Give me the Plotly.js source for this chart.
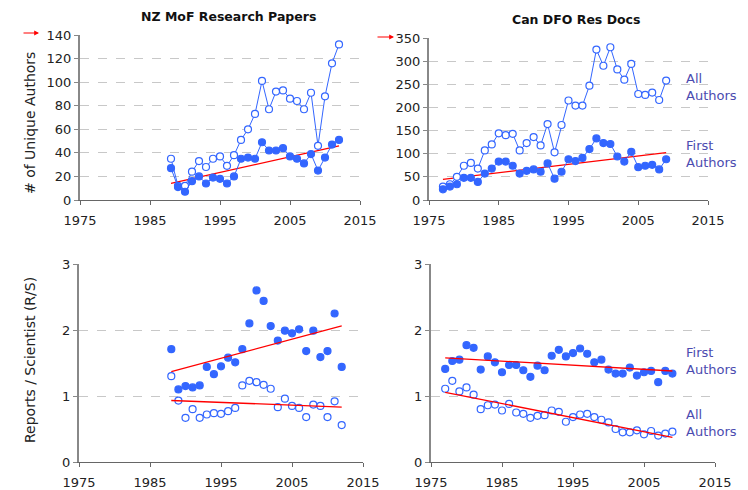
<!DOCTYPE html>
<html>
<head>
<meta charset="utf-8">
<script src="https://cdn.plot.ly/plotly-3.0.1.min.js"></script>
<style>html,body{margin:0;padding:0;background:#fff;}#chart{width:748px;height:490px;}</style>
</head>
<body>
<div id="chart"></div>
<script>
// ---- Data ----
const nzYears = [1988,1989,1990,1991,1992,1993,1994,1995,1996,1997,1998,1999,2000,2001,2002,2003,2004,2005,2006,2007,2008,2009,2010,2011,2012];
const nzAllAuthors = [35,12,12,24,33,28,35,37,29,38,51,60,73,101,77,92,93,86,84,77,91,46,88,116,132];
const nzFirstAuthors = [27,11,7,16,20,14,19,18,14,20,35,36,35,49,42,42,44,37,35,31,39,25,36,47,51];
const nzRsFirst = [1.71,1.10,1.15,1.13,1.16,1.44,1.33,1.45,1.58,1.51,1.71,2.10,2.60,2.44,2.06,1.84,1.99,1.95,2.01,1.68,1.99,1.59,1.68,2.25,1.44];
const nzRsAll = [1.30,0.93,0.67,0.80,0.67,0.72,0.74,0.73,0.77,0.82,1.16,1.23,1.21,1.17,1.11,0.83,0.96,0.85,0.82,0.68,0.87,0.85,0.68,0.92,0.56];

const dfoYears = [1977,1978,1979,1980,1981,1982,1983,1984,1985,1986,1987,1988,1989,1990,1991,1992,1993,1994,1995,1996,1997,1998,1999,2000,2001,2002,2003,2004,2005,2006,2007,2008,2009];
const dfoAllAuthors = [29,34,50,74,80,68,107,120,144,140,143,107,123,136,118,164,103,162,215,204,204,247,325,290,330,282,260,294,229,227,232,216,258];
const dfoFirstAuthors = [23,29,34,48,48,39,57,68,83,83,74,57,63,66,61,79,46,61,88,84,91,110,133,123,121,94,83,104,71,74,76,66,88];
const dfoRsFirst = [1.41,1.53,1.55,1.77,1.73,1.40,1.60,1.51,1.36,1.47,1.47,1.39,1.29,1.46,1.39,1.61,1.70,1.60,1.65,1.72,1.64,1.51,1.55,1.40,1.34,1.34,1.43,1.31,1.36,1.38,1.21,1.38,1.34];
const dfoRsAll = [1.11,1.23,1.07,1.13,1.02,0.80,0.86,0.87,0.78,0.88,0.75,0.73,0.67,0.70,0.71,0.78,0.76,0.61,0.68,0.72,0.73,0.68,0.64,0.60,0.50,0.45,0.45,0.48,0.42,0.47,0.40,0.43,0.46];

const xTickVals = [1975,1985,1995,2005,2015];
const panelTitles = ["NZ MoF Research Papers", "Can DFO Res Docs"];
const yTitles = ["# of Unique Authors", "Reports / Scientist (R/S)"];

// ---- Helpers ----
function linFit(xs, ys) {
  const n = xs.length;
  let sx=0, sy=0, sxx=0, sxy=0;
  for (let i=0;i<n;i++){ sx+=xs[i]; sy+=ys[i]; sxx+=xs[i]*xs[i]; sxy+=xs[i]*ys[i]; }
  const b = (n*sxy - sx*sy)/(n*sxx - sx*sx);
  const a = (sy - b*sx)/n;
  const x0 = xs[0], x1 = xs[n-1];
  return {x:[x0,x1], y:[a+b*x0, a+b*x1]};
}

const BLUE = '#3366FF';
const RED = '#FF0000';
const W = 748, H = 490;
const px = v => v / W;
const py = v => 1 - v / H;

function lineTrace(x, y, open, xa, ya) {
  return {x, y, xaxis:xa, yaxis:ya, type:'scatter', mode:'lines+markers',
    line:{color:BLUE, width:1},
    marker:{size:7, symbol:'circle', color: open ? '#FFFFFF' : BLUE, line:{color:BLUE, width:1.2}},
    hoverinfo:'skip'};
}
function dotTrace(x, y, open, xa, ya) {
  return {x, y, xaxis:xa, yaxis:ya, type:'scatter', mode:'markers',
    marker:{size:7, symbol:'circle', color: open ? '#FFFFFF' : BLUE, line:{color:BLUE, width:1.2}},
    hoverinfo:'skip'};
}
function trendTrace(x, y, xa, ya) {
  const f = linFit(x, y);
  return {x:f.x, y:f.y, xaxis:xa, yaxis:ya, type:'scatter', mode:'lines',
    line:{color:RED, width:1.3}, hoverinfo:'skip'};
}

const traces = [
  // top-left
  trendTrace(nzYears, nzFirstAuthors, 'x', 'y'),
  lineTrace(nzYears, nzAllAuthors, true, 'x', 'y'),
  lineTrace(nzYears, nzFirstAuthors, false, 'x', 'y'),
  // top-right
  trendTrace(dfoYears, dfoFirstAuthors, 'x2', 'y2'),
  lineTrace(dfoYears, dfoAllAuthors, true, 'x2', 'y2'),
  lineTrace(dfoYears, dfoFirstAuthors, false, 'x2', 'y2'),
  // bottom-left
  dotTrace(nzYears, nzRsFirst, false, 'x3', 'y3'),
  dotTrace(nzYears, nzRsAll, true, 'x3', 'y3'),
  trendTrace(nzYears, nzRsFirst, 'x3', 'y3'),
  trendTrace(nzYears, nzRsAll, 'x3', 'y3'),
  // bottom-right
  dotTrace(dfoYears, dfoRsFirst, false, 'x4', 'y4'),
  dotTrace(dfoYears, dfoRsAll, true, 'x4', 'y4'),
  trendTrace(dfoYears, dfoRsFirst, 'x4', 'y4'),
  trendTrace(dfoYears, dfoRsAll, 'x4', 'y4')
];

const FONT = '"DejaVu Sans", Verdana, sans-serif';
function xAxis(domain, anchor) {
  return {domain, anchor, range:[1975,2015], tickmode:'array', tickvals:xTickVals,
    ticktext:xTickVals.map(String), showgrid:false, zeroline:false,
    showline:true, linecolor:'#666', linewidth:1, ticks:'outside', ticklen:4, tickcolor:'#666',
    ticklabelstandoff:4,
    tickfont:{family:FONT, size:13, color:'#222'}, fixedrange:true};
}
function yAxis(domain, anchor, range, dtick) {
  return {domain, anchor, range, dtick, tick0:0, showgrid:true, gridcolor:'#c8c8c8', griddash:'dash', gridwidth:1,
    zeroline:false, showline:true, linecolor:'#888', linewidth:2, ticks:'outside', ticklen:4, tickcolor:'#888',
    tickfont:{family:FONT, size:13, color:'#222'}, fixedrange:true};
}

const labelColor = '#4B4BB0';
const annotations = [
  {text:'<b>'+panelTitles[0]+'</b>', xref:'paper', yref:'paper', x:px(228), y:py(17), showarrow:false,
    font:{family:FONT, size:12.5, color:'#111'}, xanchor:'center', yanchor:'middle'},
  {text:'<b>'+panelTitles[1]+'</b>', xref:'paper', yref:'paper', x:px(576), y:py(19), showarrow:false,
    font:{family:FONT, size:12.5, color:'#111'}, xanchor:'center', yanchor:'middle'},
  {text:yTitles[0], xref:'paper', yref:'paper', x:px(30), y:py(123), textangle:-90, showarrow:false,
    font:{family:FONT, size:14, color:'#222'}, xanchor:'center', yanchor:'middle'},
  {text:yTitles[1], xref:'paper', yref:'paper', x:px(30), y:py(360), textangle:-90, showarrow:false,
    font:{family:FONT, size:14, color:'#222'}, xanchor:'center', yanchor:'middle'},
  {text:'All<br>Authors', xref:'paper', yref:'paper', x:px(684), y:py(87), showarrow:false, align:'left',
    font:{family:FONT, size:13, color:labelColor}, xanchor:'left', yanchor:'middle'},
  {text:'First<br>Authors', xref:'paper', yref:'paper', x:px(684), y:py(154), showarrow:false, align:'left',
    font:{family:FONT, size:13, color:labelColor}, xanchor:'left', yanchor:'middle'},
  {text:'First<br>Authors', xref:'paper', yref:'paper', x:px(684), y:py(361), showarrow:false, align:'left',
    font:{family:FONT, size:13, color:labelColor}, xanchor:'left', yanchor:'middle'},
  {text:'All<br>Authors', xref:'paper', yref:'paper', x:px(684), y:py(423), showarrow:false, align:'left',
    font:{family:FONT, size:13, color:labelColor}, xanchor:'left', yanchor:'middle'},
  {text:'', xref:'paper', yref:'paper', x:px(39), y:py(33), showarrow:true, ax:-17, ay:0,
    arrowhead:2, arrowsize:0.8, arrowwidth:1.2, arrowcolor:RED},
  {text:'', xref:'paper', yref:'paper', x:px(394), y:py(37), showarrow:true, ax:-18, ay:0,
    arrowhead:2, arrowsize:0.8, arrowwidth:1.2, arrowcolor:RED}
];

const layout = {
  width:W, height:H, margin:{l:0, r:0, t:0, b:0}, showlegend:false,
  paper_bgcolor:'#fff', plot_bgcolor:'#fff', font:{family:FONT, color:'#222'},
  xaxis: xAxis([px(80), px(360)], 'y'),
  yaxis: yAxis([py(200), py(35)], 'x', [0,140], 20),
  xaxis2: xAxis([px(429), px(708)], 'y2'),
  yaxis2: yAxis([py(200), py(38)], 'x2', [0,350], 50),
  xaxis3: xAxis([px(79), px(363)], 'y3'),
  yaxis3: yAxis([py(462), py(264)], 'x3', [0,3], 1),
  xaxis4: xAxis([px(431), px(715)], 'y4'),
  yaxis4: yAxis([py(462), py(264)], 'x4', [0,3], 1),
  annotations
};

Plotly.newPlot('chart', traces, layout, {staticPlot:true, displayModeBar:false});
</script>
</body>
</html>
